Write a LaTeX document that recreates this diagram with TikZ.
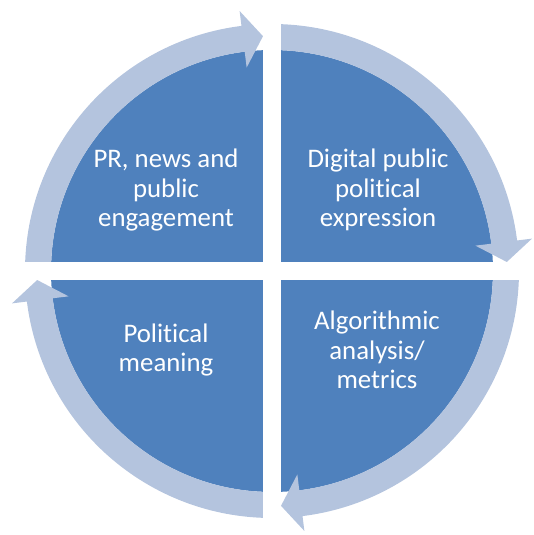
\documentclass[tikz,border=0pt]{standalone}
\usepackage{fontspec}
\setmainfont{Carlito}[Ligatures=NoCommon]
\usetikzlibrary{calc}
\definecolor{segblue}{RGB}{79,129,189}
\definecolor{ringblue}{RGB}{180,196,222}
\tikzset{
  seglabel/.style={text=white,align=center,inner sep=0pt,font=\fontsize{26.8}{29.5}\selectfont},
  ringarc/.style={fill=ringblue},
}
\begin{document}
\begin{tikzpicture}[x=1pt,y=1pt]
    \useasboundingbox (-272,-264) rectangle (261,271);
    \begin{scope}[shift={(0,0)}]
      \fill[segblue] (0,0) circle[radius=221pt];
      % ring arrows, clockwise
      \fill[ringarc] (90:247) arc[start angle=90,end angle=7.1,radius=247pt]
        -- (7.1:262) -- (2.2:235) -- (7.1:205) -- (7.1:221)
        arc[start angle=7.1,end angle=90,radius=221pt] -- cycle;
      \fill[ringarc] (0:247) arc[start angle=0,end angle=-82.9,radius=247pt]
        -- (-82.9:262) -- (-87.8:235) -- (-82.9:205) -- (-82.9:221)
        arc[start angle=-82.9,end angle=0,radius=221pt] -- cycle;
      \fill[ringarc] (-90:247) arc[start angle=-90,end angle=-172.9,radius=247pt]
        -- (-172.9:262) -- (-177.8:235) -- (-172.9:205) -- (-172.9:221)
        arc[start angle=-172.9,end angle=-90,radius=221pt] -- cycle;
      \fill[ringarc] (180:247) arc[start angle=180,end angle=97.1,radius=247pt]
        -- (97.1:262) -- (92.2:235) -- (97.1:205) -- (97.1:221)
        arc[start angle=97.1,end angle=180,radius=221pt] -- cycle;
      % gaps between the quarters
      \fill[white] (-9,-270) rectangle (9,275);
      \fill[white] (-275,-9) rectangle (265,9);
    \end{scope}
    \node[seglabel] (engage) at (-106,81) {PR, news and\\public\\engagement};
    \node[seglabel] (express) at (106,81) {Digital public\\political\\expression};
    \node[seglabel] (metrics) at (105,-79) {Algorithmic\\analysis/\\metrics};
    \node[seglabel] (meaning) at (-106,-79) {Political\\meaning};
\end{tikzpicture}
\end{document}
